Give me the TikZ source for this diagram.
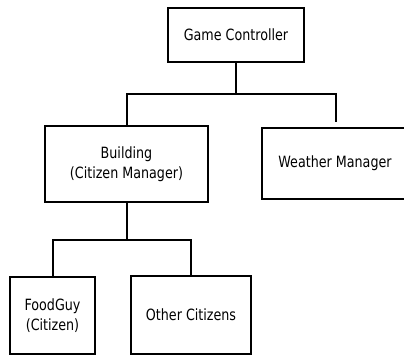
\documentclass[tikz,border=0pt]{standalone}
\usepackage{fontspec}
\setmainfont{DejaVu Sans}[FakeStretch=0.82]

\begin{document}
\begin{tikzpicture}[x=1pt, y=-1pt, line width=2pt,
    box/.style={draw, align=center, inner sep=0pt, font=\fontsize{15.5}{20}\selectfont}]
      \useasboundingbox (0, 0) rectangle (404, 356);
      \clip (0, 0) rectangle (404, 356);

      \node[box, minimum width=136pt, minimum height=54pt] (gc) at (236, 35) {Game Controller};
      \node[box, minimum width=163pt, minimum height=76pt] (bld) at (126.5, 164) {Building\\(Citizen Manager)};
      \node[box, minimum width=160pt, minimum height=71pt] (wm) at (342, 163.5) {\hspace*{-14pt}Weather Manager};
      \node[box, minimum width=85pt, minimum height=77pt] (fg) at (52.5, 315.5) {FoodGuy\\(Citizen)};
      \node[box, minimum width=120pt, minimum height=78pt] (oc) at (191, 315) {Other Citizens};

      \coordinate (j1) at (236, 94);
      \coordinate (wmend) at (336, 122);
      \coordinate (j2) at (126.5, 240);

      \draw (gc.south) -- (j1);
      \draw (bld.north) |- (j1) -| (wmend);

      \draw (bld.south) -- (j2);
      \draw (fg.north) |- (j2) -| (oc.north);
\end{tikzpicture}
\end{document}
